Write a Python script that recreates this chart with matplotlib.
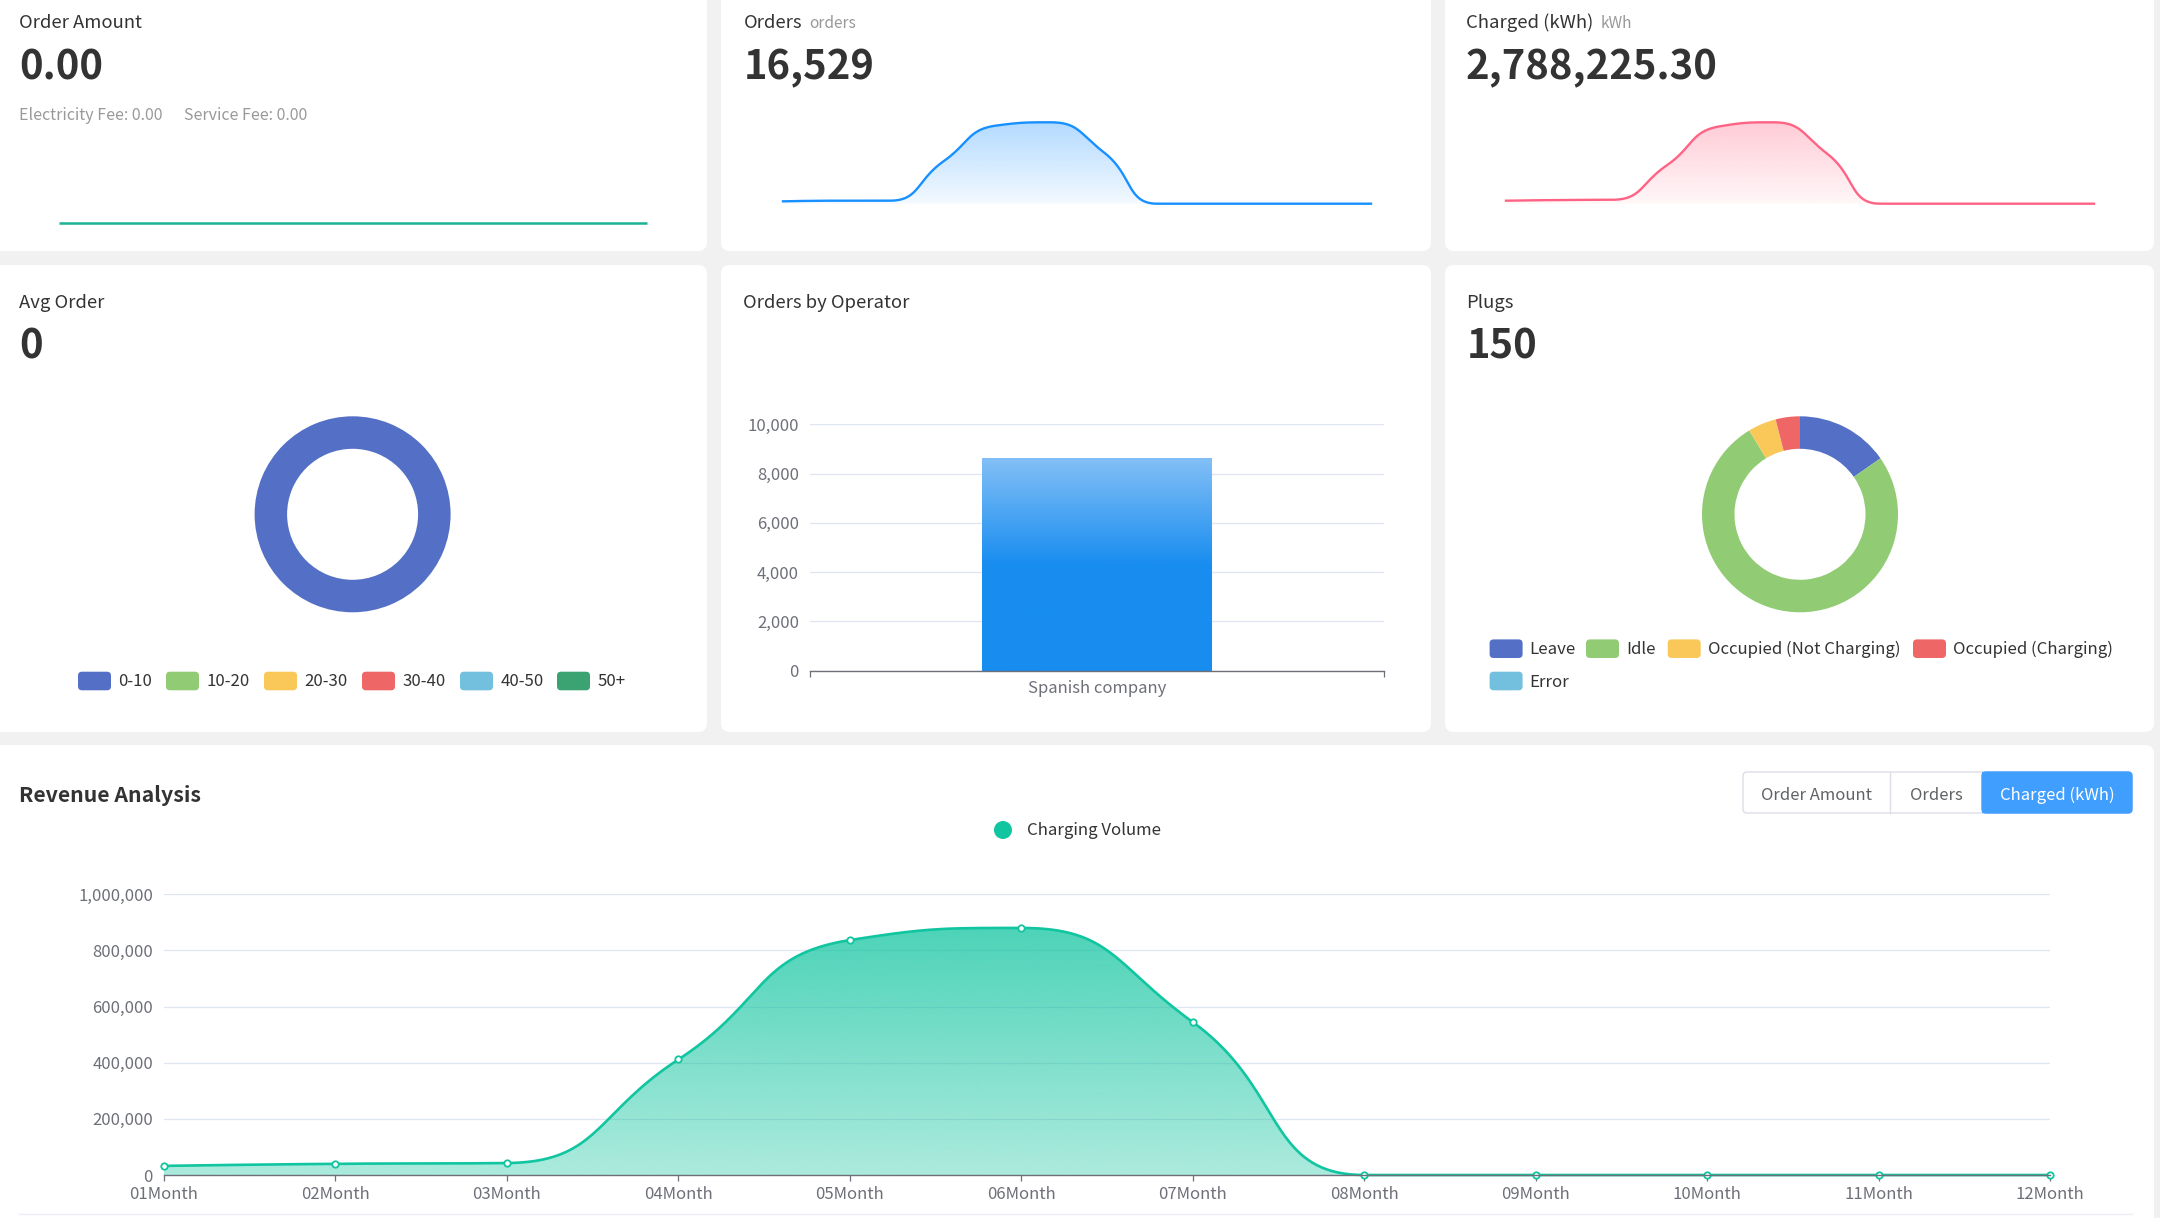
import numpy as np
import matplotlib
matplotlib.use('Agg')
import matplotlib.pyplot as plt
from matplotlib.patches import FancyBboxPatch, Rectangle, Circle
from matplotlib.colors import to_rgb
from matplotlib.ticker import FuncFormatter

plt.rcParams['font.family'] = ['Noto Sans CJK SC', 'DejaVu Sans']

# ---------------- data ----------------
months = ['01Month', '02Month', '03Month', '04Month', '05Month', '06Month',
          '07Month', '08Month', '09Month', '10Month', '11Month', '12Month']
charged_kwh = [32500, 39800, 42600, 411500, 836800, 880200, 544800, 0, 0, 0, 0, 0]
orders_monthly = [150, 190, 190, 2670, 4940, 5140, 3249, 0, 0, 0, 0, 0]
order_amount_monthly = [0, 0, 0, 0, 0, 0, 0, 0, 0, 0, 0, 0]

avg_order_labels = ['0-10', '10-20', '20-30', '30-40', '40-50', '50+']
avg_order_counts = [16529, 0, 0, 0, 0, 0]

plug_labels = ['Leave', 'Idle', 'Occupied (Not Charging)', 'Occupied (Charging)', 'Error']
plug_counts = [23, 114, 7, 6, 0]

operators = ['Spanish company']
operator_orders = [8620]

bar_ticks = [0, 2000, 4000, 6000, 8000, 10000]
revenue_ticks = [0, 200000, 400000, 600000, 800000, 1000000]
buttons = ['Order Amount', 'Orders', 'Charged (kWh)']

kpi_order_amount = '0.00'
kpi_orders = '16,529'
kpi_charged = '2,788,225.30'
kpi_avg_order = '0'
kpi_plugs = '150'

palette = ['#5470c6', '#91cc75', '#fac858', '#ee6666', '#73c0de', '#3ba272']

# ---------------- figure ----------------
W, H = 2160, 1218
fig = plt.figure(figsize=(W / 100, H / 100), dpi=100)
fig.patch.set_facecolor('#f1f1f1')

bg = fig.add_axes([0, 0, 1, 1])
bg.set_xlim(0, W)
bg.set_ylim(H, 0)
bg.axis('off')


def add_ax(x0, y0, x1, y1):
    return fig.add_axes([x0 / W, 1 - y1 / H, (x1 - x0) / W, (y1 - y0) / H])


def panel(x0, y0, x1, y1, r=9):
    bg.add_patch(FancyBboxPatch((x0, y0), x1 - x0, y1 - y0,
                                boxstyle=f'round,pad=0,rounding_size={r}',
                                fc='white', ec='none', zorder=0))


def txt(x, y, s, size, color='#333333', weight='normal', ha='left'):
    bg.text(x, y, s, fontsize=size, color=color, fontweight=weight,
            ha=ha, va='baseline', zorder=5)


def echarts_smooth(P, smooth=0.5, n=40):
    N = len(P)
    out = [P[0]]
    cp0 = P[0].copy()
    for i in range(1, N):
        x, y = P[i]
        prevX, prevY = P[i - 1]
        if i == N - 1:
            cp1 = np.array([x, y])
            ncp0 = None
        else:
            nextX, nextY = P[i + 1]
            vx = nextX - prevX
            vy = nextY - prevY
            lp = np.hypot(x - prevX, y - prevY)
            ln = np.hypot(nextX - x, nextY - y)
            r = ln / (ln + lp)
            ncx = x + vx * smooth * r
            ncy = y + vy * smooth * r
            ncx = min(ncx, max(nextX, x)); ncy = min(ncy, max(nextY, y))
            ncx = max(ncx, min(nextX, x)); ncy = max(ncy, min(nextY, y))
            vx = ncx - x; vy = ncy - y
            c1x = x - vx * lp / ln; c1y = y - vy * lp / ln
            c1x = min(c1x, max(prevX, x)); c1y = min(c1y, max(prevY, y))
            c1x = max(c1x, min(prevX, x)); c1y = max(c1y, min(prevY, y))
            vx = x - c1x; vy = y - c1y
            ncx = x + vx * ln / lp; ncy = y + vy * ln / lp
            cp1 = np.array([c1x, c1y])
            ncp0 = np.array([ncx, ncy])
        t = np.linspace(0, 1, n)[1:, None]
        p0 = P[i - 1]; p3 = P[i]
        seg = ((1 - t) ** 3) * p0 + 3 * ((1 - t) ** 2) * t * cp0 + 3 * (1 - t) * t ** 2 * cp1 + t ** 3 * p3
        out.extend(seg)
        cp0 = ncp0
    return np.array(out)


def smooth_line(xd, yd, box, xlim, ylim):
    x0, y0, x1, y1 = box
    sx = (x1 - x0) / (xlim[1] - xlim[0])
    sy = (y1 - y0) / (ylim[1] - ylim[0])
    P = np.column_stack([(np.asarray(xd, float) - xlim[0]) * sx,
                         (np.asarray(yd, float) - ylim[0]) * sy])
    S = echarts_smooth(P)
    return S[:, 0] / sx + xlim[0], S[:, 1] / sy + ylim[0]


def gradient_area(ax, xs, ys, color, a_top, a_bot, zorder=2):
    poly = ax.fill_between(xs, ys, 0, facecolor='none', edgecolor='none')
    top = max(ys) if max(ys) > 0 else 1
    grad = np.zeros((256, 1, 4))
    grad[..., :3] = to_rgb(color)
    grad[:, 0, 3] = np.linspace(a_top, a_bot, 256)
    im = ax.imshow(grad, extent=[xs.min(), xs.max(), 0, top], origin='upper',
                   aspect='auto', zorder=zorder, interpolation='bilinear')
    im.set_clip_path(poly.get_paths()[0], transform=ax.transData)


# ---------------- panels ----------------
panel(-12, -12, 707, 251)
panel(721, -12, 1431, 251)
panel(1445, -12, 2154, 251)
panel(-12, 265, 707, 732)
panel(721, 265, 1431, 732)
panel(1445, 265, 2154, 732)
panel(-12, 745, 2154, 1240)
bg.plot([19, 2132], [1214, 1214], color='#ebeef5', lw=1, zorder=1)

# ---------------- top row KPIs ----------------
TITLE = 13.3
BIG = 28.8
txt(19, 28.3, 'Order Amount', TITLE)
txt(19, 79, kpi_order_amount, BIG, weight='bold')
txt(19, 119.5, 'Electricity Fee: 0.00', 11.5, color='#999999')
txt(184, 119.5, 'Service Fee: 0.00', 11.5, color='#999999')

txt(744, 28.3, 'Orders', TITLE)
txt(809, 28.3, 'orders', 11.2, color='#999999')
txt(744, 79, kpi_orders, BIG, weight='bold')

txt(1466, 28.3, 'Charged (kWh)', TITLE)
txt(1601, 28.3, 'kWh', 11.2, color='#999999')
txt(1466, 79, kpi_charged, BIG, weight='bold')

# sparkline: order amount (flat)
box = (59, 150, 647, 222.7)
ax = add_ax(*box)
ax.plot(range(12), order_amount_monthly, color='#1ab394', lw=1.8, clip_on=False,
        solid_capstyle='butt')
ax.set_xlim(0, 11); ax.set_ylim(0, 1); ax.axis('off')

# sparkline: orders
box = (783, 122.3, 1371, 203.7)
ax = add_ax(*box)
xl, yl = (0, 11), (0, max(orders_monthly))
xs, ys = smooth_line(range(12), orders_monthly, box, xl, yl)
gradient_area(ax, xs, ys, '#1890ff', 0.33, 0.05)
ax.plot(xs, ys, color='#1890ff', lw=1.7, clip_on=False, zorder=3)
ax.set_xlim(*xl); ax.set_ylim(*yl); ax.axis('off')

# sparkline: kWh
box = (1506, 122.3, 2094, 203.7)
ax = add_ax(*box)
xl, yl = (0, 11), (0, max(charged_kwh))
xs, ys = smooth_line(range(12), charged_kwh, box, xl, yl)
gradient_area(ax, xs, ys, '#ff6384', 0.33, 0.05)
ax.plot(xs, ys, color='#ff6384', lw=1.7, clip_on=False, zorder=3)
ax.set_xlim(*xl); ax.set_ylim(*yl); ax.axis('off')

# ---------------- middle row ----------------
LEG = 12.1


def swatch(x, yc, color):
    bg.add_patch(FancyBboxPatch((x, yc - 9.3), 33, 18.6,
                                boxstyle='round,pad=0,rounding_size=4',
                                fc=color, ec='none', zorder=3))


def donut(cx, cy, R, r, values, colors):
    ax = add_ax(cx - R, cy - R, cx + R, cy + R)
    pairs = [(v, c) for v, c in zip(values, colors) if v > 0]
    ax.pie([p[0] for p in pairs], colors=[p[1] for p in pairs], startangle=90,
           counterclock=False, radius=1,
           wedgeprops=dict(width=1 - r / R, edgecolor='none', linewidth=0))
    ax.set_xlim(-1, 1); ax.set_ylim(-1, 1)
    ax.set_aspect('equal'); ax.axis('off')


# Avg order
txt(19, 308.3, 'Avg Order', TITLE)
txt(19, 358.5, kpi_avg_order, BIG, weight='bold')
donut(352.6, 514.3, 98, 65.5, avg_order_counts, palette)
sw_x = [78, 166, 264, 362, 460, 557]
for i, lab in enumerate(avg_order_labels):
    swatch(sw_x[i], 681, palette[i])
    txt(sw_x[i] + 40.5, 686.5, lab, LEG, color='#333333')

# Plugs
txt(1466.6, 308.3, 'Plugs', TITLE)
txt(1466.6, 358.5, kpi_plugs, BIG, weight='bold')
donut(1800, 514.3, 98, 65.5, plug_counts, palette)
plug_pos = [(1489.6, 648.7), (1586, 648.7), (1667.7, 648.7), (1913, 648.7), (1489.6, 681)]
for i, lab in enumerate(plug_labels):
    x, yc = plug_pos[i]
    swatch(x, yc, palette[i])
    txt(x + 40, yc + 5.6, lab, LEG, color='#333333')

# Orders by operator
txt(743, 308.3, 'Orders by Operator', TITLE)
box = (810, 424.3, 1384, 670.7)
ax = add_ax(*box)
ax.set_xlim(-0.5, 0.5)
bars = ax.bar(range(len(operators)), operator_orders, width=0.4, facecolor='none',
              edgecolor='none', zorder=2)
grad = np.zeros((256, 1, 4))
stops_pos = [0.0, 0.5, 1.0]
stops_col = [to_rgb('#83bff6'), to_rgb('#188df0'), to_rgb('#188df0')]
tt = np.linspace(0, 1, 256)
for ch in range(3):
    grad[:, 0, ch] = np.interp(tt, stops_pos, [c[ch] for c in stops_col])
grad[..., 3] = 1
for b in bars:
    bx, by, bw, bh = b.get_x(), b.get_y(), b.get_width(), b.get_height()
    im = ax.imshow(grad, extent=[bx, bx + bw, by, by + bh], origin='upper',
                   aspect='auto', zorder=2)
    im.set_clip_path(b)
ax.set_xlim(-0.5, 0.5)
ax.set_ylim(0, 10000)
ax.set_yticks(bar_ticks)
ax.yaxis.set_major_formatter(FuncFormatter(lambda v, p: f'{int(v):,}'))
ax.yaxis.grid(True, color='#E0E6F1', lw=0.9)
ax.set_axisbelow(True)
ax.set_xticks([-0.5, 0.5])
ax.set_xticklabels(['', ''])
ax.set_xticks(range(len(operators)), minor=True)
ax.set_xticklabels(operators, minor=True)
ax.tick_params(axis='x', which='major', length=4, width=0.9, color='#6E7079')
ax.tick_params(axis='x', which='minor', length=0, pad=7, labelsize=12, labelcolor='#6E7079')
ax.tick_params(axis='y', length=0, pad=8, labelsize=12, labelcolor='#6E7079')
for s in ['top', 'right', 'left']:
    ax.spines[s].set_visible(False)
ax.spines['bottom'].set_color('#6E7079')
ax.spines['bottom'].set_linewidth(1)
ax.patch.set_alpha(0)

# ---------------- bottom: revenue analysis ----------------
txt(19, 801.7, 'Revenue Analysis', 15.3, weight='bold')

# button group
bx0, bx1, by0, by1 = 1743, 2132, 772, 813
bg.add_patch(FancyBboxPatch((bx0, by0), bx1 - bx0, by1 - by0,
                            boxstyle='round,pad=0,rounding_size=4',
                            fc='white', ec='#dcdfe6', lw=1, zorder=3))
bg.add_patch(FancyBboxPatch((1982, by0), bx1 - 1982, by1 - by0,
                            boxstyle='round,pad=0,rounding_size=4',
                            fc='#409eff', ec='#409eff', lw=1, zorder=4))
bg.add_patch(Rectangle((1982, by0), 10, by1 - by0, fc='#409eff', ec='none', zorder=4))
bg.plot([1890, 1890], [by0, by1], color='#dcdfe6', lw=1, zorder=4)
btn_cx = [1816.5, 1936, 2057]
for i, lab in enumerate(buttons):
    col = 'white' if i == 2 else '#606266'
    txt(btn_cx[i], 800.5, lab, 12, color=col, ha='center')

# legend
line_col = '#10c5a0'
bg.add_patch(Circle((1003, 830), 9, fc=line_col, ec='none', zorder=3))
txt(1027, 835, 'Charging Volume', 12.1, color='#333333')

box = (164, 894.3, 2050, 1175)
ax = add_ax(*box)
xl, yl = (0, 11), (0, 1000000)
xs, ys = smooth_line(range(12), charged_kwh, box, xl, yl)
gradient_area(ax, xs, ys, line_col, 0.75, 0.35)
ax.plot(xs, ys, color=line_col, lw=1.9, clip_on=False, zorder=4)
ax.plot(range(12), charged_kwh, ls='none', marker='o', ms=4.6, mfc='white',
        mec=line_col, mew=1.3, clip_on=False, zorder=5)
ax.set_xlim(*xl); ax.set_ylim(*yl)
ax.set_yticks(revenue_ticks)
ax.yaxis.set_major_formatter(FuncFormatter(lambda v, p: f'{int(v):,}'))
ax.yaxis.grid(True, color='#E0E6F1', lw=0.9)
ax.set_axisbelow(True)
ax.set_xticks(range(12))
ax.set_xticklabels(months)
ax.tick_params(axis='x', length=4, width=0.9, color='#6E7079', pad=4,
               labelsize=12, labelcolor='#6E7079')
ax.tick_params(axis='y', length=0, pad=8, labelsize=12, labelcolor='#6E7079')
for s in ['top', 'right', 'left']:
    ax.spines[s].set_visible(False)
ax.spines['bottom'].set_color('#6E7079')
ax.spines['bottom'].set_linewidth(1)
ax.spines['bottom'].set_zorder(6)
ax.patch.set_alpha(0)

fig.savefig('out.png', dpi=100, facecolor=fig.get_facecolor())
